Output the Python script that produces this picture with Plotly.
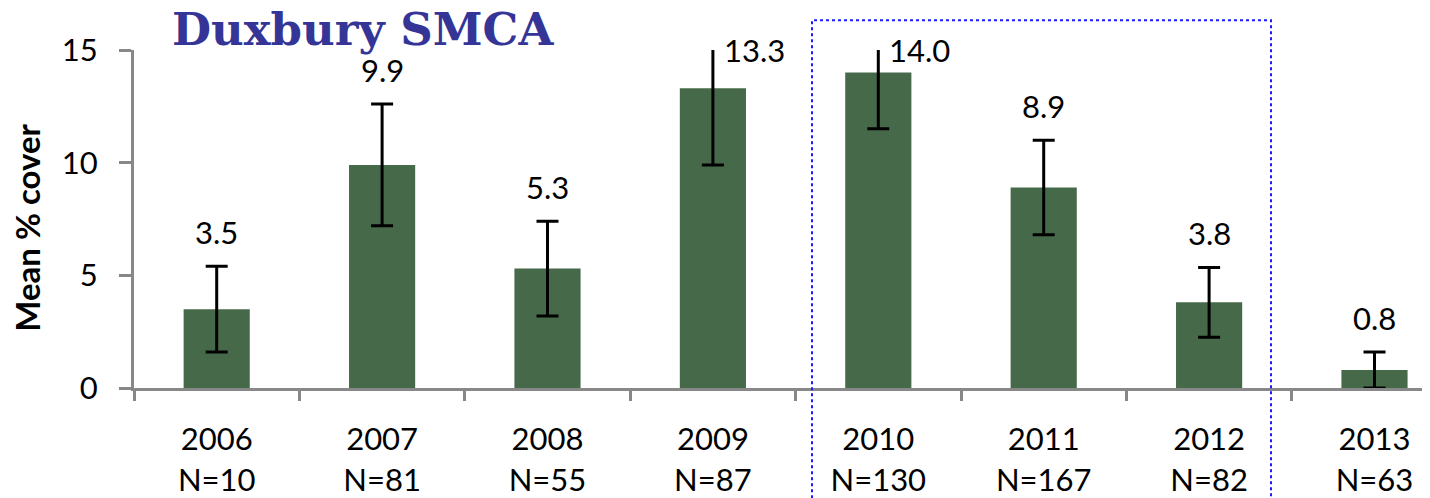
import plotly.graph_objects as go

# ---- data ----
years = ["2006", "2007", "2008", "2009", "2010", "2011", "2012", "2013"]
sample_sizes = [10, 81, 55, 87, 130, 167, 82, 63]
mean_cover = [3.5, 9.9, 5.3, 13.3, 14.0, 8.9, 3.8, 0.8]
error_plus = [1.9, 2.7, 2.1, 3.4, 2.5, 2.1, 1.55, 0.8]
error_minus = [1.9, 2.7, 2.1, 3.4, 2.5, 2.1, 1.55, 0.8]
value_labels = ["3.5", "9.9", "5.3", "13.3", "14.0", "8.9", "3.8", "0.8"]
y_ticks = [0, 5, 10, 15]
y_max = 15

# ---- style ----
BAR_COLOR = "#466a49"
AXIS_GRAY = "#888888"
FONT = "Lato"
# the page body adds an 8px margin; the figure is sized to fit inside the window
FIG_W, FIG_H = 1422, 490
PLOT_L, PLOT_T, PLOT_B = 126, 42, 108
PLOT_W = FIG_W - PLOT_L
CAT_PX = 165.4

tick_text = [f"{y}<br>N={n}" for y, n in zip(years, sample_sizes)]

fig = go.Figure()
fig.add_trace(go.Bar(
    x=years,
    y=mean_cover,
    width=0.4,
    marker=dict(color=BAR_COLOR, line=dict(width=0)),
    error_y=dict(type="data", symmetric=False, array=error_plus,
                 arrayminus=error_minus, color="black", thickness=3, width=11),
    hoverinfo="skip",
))

annotations = []
for i, (v, ep, lab) in enumerate(zip(mean_cover, error_plus, value_labels)):
    top = v + ep
    if top > y_max:
        annotations.append(dict(x=i, y=y_max, xref="x", yref="y", text=lab,
                                showarrow=False, xanchor="left", yanchor="middle",
                                xshift=9, font=dict(family=FONT, size=31, color="black")))
    else:
        annotations.append(dict(x=i, y=top, xref="x", yref="y", text=lab,
                                showarrow=False, xanchor="center", yanchor="bottom",
                                yshift=13, font=dict(family=FONT, size=31, color="black")))

# y-axis title
annotations.append(dict(x=0, y=0.474, xref="paper", yref="paper", text="<b>Mean % cover</b>",
                        textangle=-90, showarrow=False, xanchor="center", yanchor="middle",
                        xshift=-107, font=dict(family=FONT, size=33, color="black")))

fig.update_layout(
    width=FIG_W, height=FIG_H,
    margin=dict(l=PLOT_L, r=0, t=PLOT_T, b=PLOT_B),
    paper_bgcolor="white", plot_bgcolor="white",
    showlegend=False,
    title=dict(text="<b>Duxbury SMCA</b>", x=164 / FIG_W, xanchor="left",
               y=1, yref="container", yanchor="top", pad=dict(t=5),
               font=dict(family="DejaVu Serif", size=45, color="#353597")),
    annotations=annotations,
    shapes=[dict(type="rect", xref="paper", yref="paper",
                 x0=(812 - 134) / PLOT_W, x1=(1271 - 134) / PLOT_W,
                 y0=-0.4, y1=(390 - 20) / 340,
                 line=dict(color="#1a1aff", width=2, dash="dot"),
                 fillcolor="rgba(0,0,0,0)", layer="above")],
)

fig.update_xaxes(
    type="category", range=[-0.5, -0.5 + PLOT_W / CAT_PX],
    tickmode="array", tickvals=years, ticktext=tick_text,
    tickson="boundaries", ticks="outside", ticklen=10, tickwidth=3, tickcolor=AXIS_GRAY,
    showline=True, linecolor=AXIS_GRAY, linewidth=3,
    showgrid=False, zeroline=False,
    tickfont=dict(family=FONT, size=31, color="black"),
    ticklabelstandoff=22,
)
fig.update_yaxes(
    range=[0, y_max], tickmode="array", tickvals=y_ticks,
    ticks="outside", ticklen=12, tickwidth=3, tickcolor=AXIS_GRAY,
    showline=True, linecolor=AXIS_GRAY, linewidth=3,
    showgrid=False, zeroline=False,
    tickfont=dict(family=FONT, size=31, color="black"),
    ticklabelstandoff=15,
)

fig.write_html("out.html")
